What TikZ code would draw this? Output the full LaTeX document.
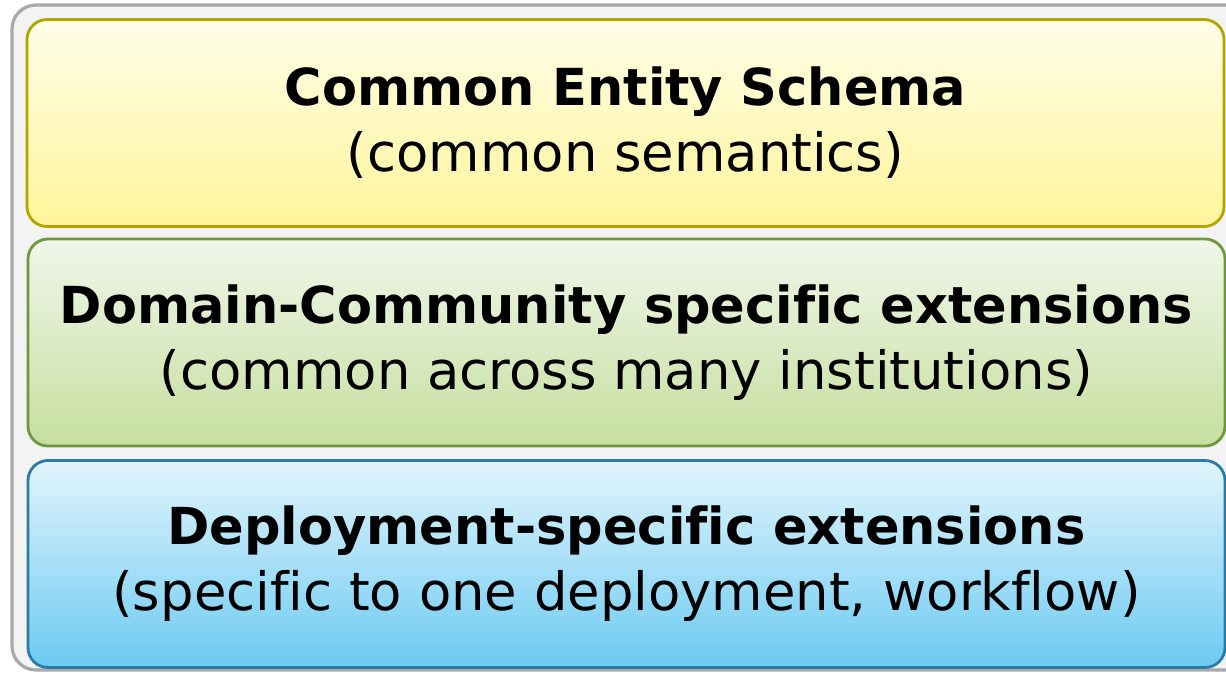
\documentclass[tikz,border=0pt]{standalone}
\usepackage{fontspec}
\setmainfont[Ligatures=NoCommon]{DejaVu Sans}
\definecolor{frameline}{HTML}{A8A8A8}
\definecolor{framefill}{HTML}{F3F3F3}
\definecolor{ylwtop}{HTML}{FFFDE8}
\definecolor{ylwbot}{HTML}{FFF59A}
\definecolor{ylwline}{HTML}{B3A500}
\definecolor{grntop}{HTML}{F0F6EA}
\definecolor{grnbot}{HTML}{C6DF9F}
\definecolor{grnline}{HTML}{6C9A3A}
\definecolor{blutop}{HTML}{E2F5FD}
\definecolor{blubot}{HTML}{6CCAF2}
\definecolor{bluline}{HTML}{2B7BA6}
\newcommand\layerhead[1]{{\fontsize{25.5}{33}\selectfont\bfseries #1}}
\tikzset{
  layer/.style={draw,line width=1.4pt,rounded corners=10pt,
    minimum width=598.5pt,minimum height=103.5pt,align=center,
    font=\fontsize{26.4}{33}\selectfont,inner sep=0pt}
}

\begin{document}
\begin{tikzpicture}[x=0.5pt,y=-0.5pt]
\useasboundingbox (0,0) rectangle (1226,675);
\draw[frameline,line width=1.6pt,fill=framefill,rounded corners=12pt] (12,5) rectangle (1260,670);
\node[layer,draw=ylwline,top color=ylwtop,bottom color=ylwbot] (schema) at (625.5,123)
  {\layerhead{Common Entity Schema}\\(common semantics)};
\node[layer,draw=grnline,top color=grntop,bottom color=grnbot] (domain) at (626.5,342.5)
  {\layerhead{Domain-Community specific extensions}\\(common across many institutions)};
\node[layer,draw=bluline,top color=blutop,bottom color=blubot] (deploy) at (626.5,564)
  {\layerhead{Deployment-specific extensions}\\(specific to one deployment, workflow)};
\end{tikzpicture}
\end{document}
